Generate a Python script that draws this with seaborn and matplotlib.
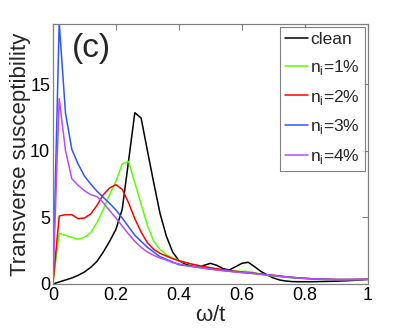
import numpy as np
import pandas as pd
import matplotlib
matplotlib.use('Agg')
import matplotlib.pyplot as plt
import seaborn as sns

# ── Data (omega/t on a 0.02 grid) ────────────────────────────
omega = np.round(np.arange(0, 1.0001, 0.02), 2)

clean = [0.0, 0.15, 0.3, 0.45, 0.65, 0.9, 1.25, 1.7, 2.4, 3.2,
         4.1, 5.6, 9.2, 12.85, 12.45, 10.0, 7.6, 5.3, 3.6, 2.4,
         1.75, 1.5, 1.35, 1.3, 1.4, 1.55, 1.4, 1.15, 1.05, 1.3,
         1.55, 1.63, 1.3, 0.95, 0.68, 0.45, 0.3, 0.22, 0.18, 0.17,
         0.17, 0.17, 0.18, 0.19, 0.2, 0.21, 0.23, 0.25, 0.28, 0.31, 0.35]
ni1 = [0.0, 3.8, 3.65, 3.5, 3.36, 3.5, 3.85, 4.6, 5.6, 6.7,
       7.7, 9.0, 9.2, 7.6, 6.0, 4.4, 3.2, 2.6, 2.2, 1.95,
       1.75, 1.6, 1.48, 1.38, 1.3, 1.22, 1.12, 1.05, 1.0, 0.96,
       0.95, 0.95, 0.85, 0.74, 0.66, 0.6, 0.55, 0.5, 0.46, 0.43,
       0.4, 0.38, 0.36, 0.34, 0.33, 0.32, 0.32, 0.33, 0.33, 0.34, 0.35]
ni2 = [0.0, 5.1, 5.2, 5.2, 4.9, 4.95, 5.25, 5.9, 6.7, 7.2,
       7.45, 7.1, 6.1, 4.9, 3.9, 3.1, 2.6, 2.3, 2.1, 1.9,
       1.75, 1.62, 1.5, 1.4, 1.3, 1.22, 1.14, 1.07, 1.0, 0.95,
       0.9, 0.85, 0.8, 0.75, 0.7, 0.66, 0.6, 0.55, 0.5, 0.46,
       0.43, 0.4, 0.38, 0.36, 0.35, 0.34, 0.34, 0.34, 0.34, 0.35, 0.35]
ni3 = [0.0, 19.6, 12.8, 10.1, 9.0, 8.1, 7.5, 6.95, 6.5, 6.05,
       5.55, 4.95, 4.3, 3.65, 3.2, 2.75, 2.4, 2.05, 1.85, 1.65,
       1.45, 1.38, 1.32, 1.25, 1.18, 1.12, 1.06, 1.01, 0.96, 0.91,
       0.86, 0.82, 0.78, 0.73, 0.68, 0.63, 0.58, 0.53, 0.49, 0.45,
       0.42, 0.39, 0.37, 0.35, 0.34, 0.33, 0.33, 0.33, 0.34, 0.34, 0.35]
ni4 = [0.0, 13.9, 10.0, 7.9, 7.4, 7.0, 6.7, 6.55, 6.1, 5.5,
       4.95, 4.35, 3.75, 3.2, 2.75, 2.4, 2.15, 1.95, 1.8, 1.6,
       1.5, 1.4, 1.32, 1.25, 1.18, 1.12, 1.05, 1.0, 0.95, 0.9,
       0.86, 0.82, 0.78, 0.73, 0.68, 0.63, 0.58, 0.53, 0.49, 0.45,
       0.42, 0.39, 0.37, 0.35, 0.34, 0.33, 0.33, 0.33, 0.34, 0.34, 0.35]

labels = ['clean', r'n$_{\mathregular{i}}$=1%', r'n$_{\mathregular{i}}$=2%',
          r'n$_{\mathregular{i}}$=3%', r'n$_{\mathregular{i}}$=4%']
colors = ['#000000', '#5cff00', '#ff0000', '#2f55ff', '#b84cff']
xticks = [0, 0.2, 0.4, 0.6, 0.8, 1]
xticklabels = ['0', '0.2', '0.4', '0.6', '0.8', '1']
yticks = [0, 5, 10, 15]

# long table for seaborn
frames = []
for lab, vals in zip(labels, [clean, ni1, ni2, ni3, ni4]):
    frames.append(pd.DataFrame({'omega': omega, 'chi': vals, 'series': lab}))
df = pd.concat(frames, ignore_index=True)

sns.set_theme(style='white')
plt.rcParams['font.family'] = ['Liberation Sans', 'DejaVu Sans']
plt.rcParams['mathtext.fontset'] = 'custom'
plt.rcParams['mathtext.rm'] = 'Liberation Sans'

fig = plt.figure(figsize=(4.07, 3.32), dpi=100)
ax = fig.add_axes([0.130, 0.1446, 0.774, 0.783])

sns.lineplot(data=df, x='omega', y='chi', hue='series', hue_order=labels,
             palette=colors, linewidth=1.1, ax=ax, sort=False)

ax.set_xlim(0, 1)
ax.set_ylim(0, 19.5)
ax.set_xticks(xticks)
ax.set_xticklabels(xticklabels)
ax.set_yticks(yticks)
ax.tick_params(direction='in', length=4, width=0.8, color='#808080',
               labelsize=13, labelcolor='black', top=True, right=True, pad=2)
for sp in ax.spines.values():
    sp.set_color('#808080')
    sp.set_linewidth(0.9)

ax.set_xlabel(r'$\mathregular{\omega}$/t', fontsize=16, labelpad=1)
ax.set_ylabel('Transverse susceptibility', fontsize=16)
ax.yaxis.set_label_coords(-0.07, 0.5)

ax.text(0.06, 0.905, '(c)', transform=ax.transAxes, fontsize=24,
        ha='left', va='center')

leg = ax.legend(loc='upper right', fontsize=12.5, frameon=True, fancybox=False,
                handlelength=1.3, handletextpad=0.15, borderpad=0.3,
                labelspacing=0.62, borderaxespad=0.15)
leg.get_frame().set_edgecolor('#606060')
leg.get_frame().set_linewidth(0.8)

fig.savefig('out.png', dpi=100)
